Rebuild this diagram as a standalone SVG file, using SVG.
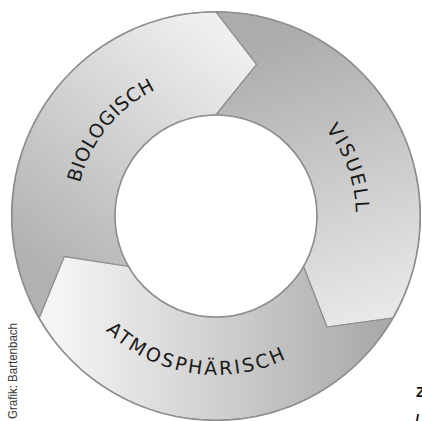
<svg xmlns="http://www.w3.org/2000/svg" width="422" height="421" viewBox="0 0 422 421">
<style>
.seg{stroke:#8e8e8e;stroke-width:1.2;stroke-linejoin:round}
.lbl{font-family:"DejaVu Sans","Liberation Sans",sans-serif;font-size:19px;fill:#1a1a1a;text-anchor:middle}
.credit{font-family:"Liberation Sans",sans-serif;font-size:12px;fill:#3a3a3a}
.cut{font-family:"Liberation Sans",sans-serif;font-size:15px;font-weight:bold;fill:#111}
</style>
<defs>
<linearGradient id="gBio" gradientUnits="userSpaceOnUse" x1="60" y1="280" x2="240" y2="50">
<stop offset="0" stop-color="#b2b2b2"/><stop offset="1" stop-color="#efefef"/>
</linearGradient>
<linearGradient id="gVis" gradientUnits="userSpaceOnUse" x1="270" y1="40" x2="360" y2="320">
<stop offset="0" stop-color="#acacac"/><stop offset="1" stop-color="#e8e8e8"/>
</linearGradient>
<linearGradient id="gAtm" gradientUnits="userSpaceOnUse" x1="60" y1="330" x2="380" y2="330">
<stop offset="0" stop-color="#f4f4f4"/><stop offset="1" stop-color="#aaaaaa"/>
</linearGradient>
<path id="pBio" d="M 85.3 266.2 A 140 140 0 0 1 237.9 77.7"/>
<path id="pVis" d="M 240.3 78.1 A 140 140 0 0 1 323.2 306.0"/>
<path id="pAtm" d="M 67.6 273.0 A 159 159 0 0 0 339.6 316.1"/>
</defs>
<rect width="422" height="421" fill="#ffffff"/>
<circle cx="216" cy="216" r="204" fill="none" stroke="#8a8a8a" stroke-width="2.2"/>
<g id="biologisch">
<path class="seg" fill="url(#gBio)" d="M 39.33 318 A 204 204 0 0 1 216 12 L 256.63 64.35 L 216 115 A 101 101 0 0 0 128.53 266.5 L 64.35 256.63 Z"/>
<text class="lbl"><textPath href="#pBio" startOffset="50%" textLength="124">BIOLOGISCH</textPath></text>
</g>
<g id="visuell">
<path class="seg" fill="url(#gVis)" d="M 216 12 A 204 204 0 0 1 392.67 318 L 327.02 327.02 L 303.47 266.5 A 101 101 0 0 0 216 115 L 256.63 64.35 Z"/>
<text class="lbl"><textPath href="#pVis" startOffset="50%" textLength="90">VISUELL</textPath></text>
</g>
<g id="atmosphaerisch">
<path class="seg" fill="url(#gAtm)" d="M 392.67 318 A 204 204 0 0 1 39.33 318 L 64.35 256.63 L 128.53 266.5 A 101 101 0 0 0 303.47 266.5 L 327.02 327.02 Z"/>
<text class="lbl"><textPath href="#pAtm" startOffset="50%" textLength="194">ATMOSPHÄRISCH</textPath></text>
</g>
<circle cx="216" cy="216" r="101" fill="#ffffff" stroke="#8e8e8e" stroke-width="1.6"/>
<g id="connectors"/>
<text class="credit" transform="translate(16.5 323) rotate(-90)" text-anchor="end" textLength="96" lengthAdjust="spacingAndGlyphs">Grafik: Bartenbach</text>
<text class="cut" x="416" y="397">Z</text>
<text class="cut" x="415" y="425">/</text>
</svg>
